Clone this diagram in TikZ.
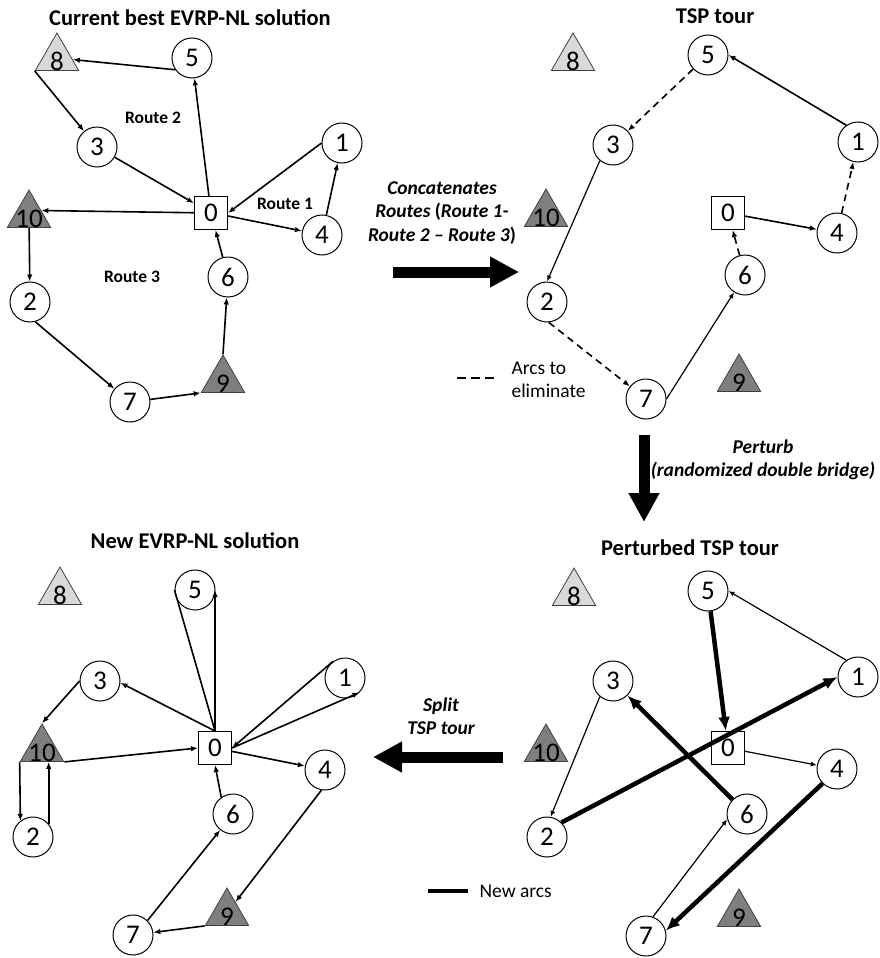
\documentclass[tikz,border=0pt]{standalone}
\usepackage{fontspec}
\setmainfont{Carlito}
\usetikzlibrary{arrows.meta,shapes.geometric}
\definecolor{lightg}{HTML}{D9D9D9}
\definecolor{darkg}{HTML}{7F7F7F}
\newcommand{\tlab}[1]{\smash{\makebox[0pt]{\raisebox{-12.5pt}{#1}}}}
\begin{document}
\begin{tikzpicture}[x=1pt,y=-1pt,
  cnode/.style={circle,draw,line width=1pt,minimum size=40pt,inner sep=0pt,font=\fontsize{27}{27}\selectfont},
  dnode/.style={rectangle,draw,line width=1pt,minimum size=33pt,inner sep=0pt,font=\fontsize{27}{27}\selectfont},
  tri/.style={regular polygon,regular polygon sides=3,draw=black!75,line width=0.8pt,minimum size=50pt,inner sep=0pt,font=\fontsize{27}{27}\selectfont},
  ltri/.style={tri,fill=lightg},
  dtri/.style={tri,fill=darkg},
  edgeA/.style={line width=1.6pt,-{Latex[length=7pt,width=5.5pt]}},
  edgeT/.style={line width=1.2pt,-{Latex[length=6pt,width=5pt]}},
  edgeD/.style={edgeA,dash pattern=on 7pt off 5pt},
  edgeB/.style={line width=4.5pt,-{Latex[length=14pt,width=12pt]}},
  bigarrow/.style={line width=11pt,-{Triangle[length=29pt,width=29pt]}},
  ttl/.style={font=\fontsize{22.5}{26}\selectfont\bfseries,anchor=base},
  rlab/.style={font=\fontsize{17.5}{20}\selectfont\bfseries},
  oplab/.style={font=\fontsize{19.5}{23.5}\selectfont\bfseries\itshape,align=center},
  lgd/.style={font=\fontsize{19.5}{23.5}\selectfont,align=left,anchor=west}]
\useasboundingbox (0,0) rectangle (880,958);
\fill[white] (0,0) rectangle (880,958);

% ---------- Panel 1: current best ----------
\node[ttl] (t1) at (190,26) {Current best EVRP-NL solution};
\node[dnode] (a0) at (211,213) {0};
\node[cnode] (a1) at (342,143) {1};
\node[cnode] (a2) at (30,302) {2};
\node[cnode] (a3) at (97,147) {3};
\node[cnode] (a4) at (322,235) {4};
\node[cnode] (a5) at (192,58) {5};
\node[cnode] (a6) at (228,277) {6};
\node[cnode] (a7) at (130,402) {7};
\node[ltri] (a8) at (57,58) {\tlab{8}};
\node[dtri] (a9) at (223,380) {\tlab{9}};
\node[dtri] (a10) at (29,215) {\tlab{10}};
\node[rlab] (r2) at (153,118) {Route 2};
\node[rlab] (r1) at (285,204) {Route 1};
\node[rlab] (r3) at (132,277) {Route 3};
\draw[edgeA] (a5.215) -- (a8);
\draw[edgeA] (a8.corner 2) -- (a3);
\draw[edgeA] (a3) -- (a0);
\draw[edgeA] (a0) -- (a5);
\draw[edgeA] (a0.-10) -- (a4);
\draw[edgeA] (a4) -- (a1);
\draw[edgeA] (a1.west) -- (a0.east);
\draw[edgeA] (a0) -- (a10.20);
\draw[edgeA] (a10) -- (a2);
\draw[edgeA] (a2.-75) -- (a7);
\draw[edgeA] (a7) -- (a9.corner 2);
\draw[edgeA] (a9.corner 1) -- (a6);
\draw[edgeA] (a6) -- (a0);

% ---------- Panel 2: TSP tour ----------
\node[ttl] (t2) at (715,24) {TSP tour};
\node[dnode] (b0) at (728,213) {0};
\node[cnode] (b1) at (858,142) {1};
\node[cnode] (b2) at (547,302) {2};
\node[cnode] (b3) at (613,145) {3};
\node[cnode] (b4) at (837,233) {4};
\node[cnode] (b5) at (708,55) {5};
\node[cnode] (b6) at (745,275) {6};
\node[cnode] (b7) at (646,399) {7};
\node[ltri] (b8) at (573,58) {\tlab{8}};
\node[dtri] (b9) at (739,379) {\tlab{9}};
\node[dtri] (b10) at (546,214) {\tlab{10}};
\draw[edgeA] (b1.125) -- (b5.east);
\draw[edgeD] (b5) -- (b3);
\draw[edgeT] (b3.230) -- (b2.north);
\draw[edgeD] (b2.-85) -- (b7);
\draw[edgeT] (b7.east) -- (b6);
\draw[edgeD] (b6) -- (b0);
\draw[edgeA] (b0) -- (b4);
\draw[edgeD] (b4) -- (b1);
\coordinate (lg1a) at (457,378);
\coordinate (lg1b) at (497,378);
\draw[line width=1.8pt,dash pattern=on 9pt off 5pt] (lg1a) -- (lg1b);
\node[lgd] (lg1) at (508,380) {Arcs to\\eliminate};

% ---------- Transformation arrows ----------
\node[oplab] (op1) at (442,213) {Concatenates\\Routes {\upshape(}Route 1-\\Route 2 – Route 3{\upshape)}};
\coordinate (ba1s) at (393,272);
\coordinate (ba1e) at (519,272);
\draw[bigarrow] (ba1s) -- (ba1e);
\node[oplab] (op2) at (763,460) {Perturb\\(randomized double bridge)};
\coordinate (ba2s) at (644,435);
\coordinate (ba2e) at (644,522);
\draw[bigarrow] (ba2s) -- (ba2e);
\node[oplab] (op3) at (441,716) {Split\\TSP tour};
\coordinate (ba3s) at (503,757);
\coordinate (ba3e) at (373,757);
\draw[bigarrow] (ba3s) -- (ba3e);

% ---------- Panel 4: perturbed TSP tour ----------
\node[ttl] (t4) at (690,555) {Perturbed TSP tour};
\node[dnode] (d0) at (728,748) {0};
\node[cnode] (d1) at (858,677) {1};
\node[cnode] (d2) at (547,837) {2};
\node[cnode] (d3) at (613,681) {3};
\node[cnode] (d4) at (837,769) {4};
\node[cnode] (d5) at (708,591) {5};
\node[cnode] (d6) at (747,814) {6};
\node[cnode] (d7) at (646,936) {7};
\node[ltri] (d8) at (574,593) {\tlab{8}};
\node[dtri] (d9) at (739,914) {\tlab{9}};
\node[dtri] (d10) at (546,749) {\tlab{10}};
\draw[edgeT] (d1.125) -- (d5.east);
\draw[edgeB] (d5) -- (d0);
\draw[edgeT] (d0) -- (d4);
\draw[edgeB] (d4.225) -- (d7.15);
\draw[edgeT] (d7.70) -- (d6.195);
\draw[edgeB] (d6) -- (d3);
\draw[edgeT] (d3.230) -- (d2.80);
\draw[edgeB] (d2.45) -- (d1.west);
\coordinate (lg2a) at (428,891);
\coordinate (lg2b) at (468,891);
\draw[line width=4.5pt] (lg2a) -- (lg2b);
\node[lgd] (lg2) at (476,891) {New arcs};

% ---------- Panel 3: new solution ----------
\node[ttl] (t3) at (195,548) {New EVRP-NL solution};
\node[dnode] (c0) at (215,748) {0};
\node[cnode] (c1) at (345,678) {1};
\node[cnode] (c2) at (33,837) {2};
\node[cnode] (c3) at (100,681) {3};
\node[cnode] (c4) at (325,770) {4};
\node[cnode] (c5) at (195,590) {5};
\node[cnode] (c6) at (233,814) {6};
\node[cnode] (c7) at (133,935) {7};
\node[ltri] (c8) at (60,592) {\tlab{8}};
\node[dtri] (c9) at (227,913) {\tlab{9}};
\node[dtri] (c10) at (42,749) {\tlab{10}};
\draw[edgeA] (c0.north) -- (c0.north |- c5.east);
\draw[line width=1.6pt] (c5.west) -- (c0.north);
\draw[edgeA] (c0.east) -- (c1.-45);
\draw[edgeA] (c1.126) -- (c0.east);
\draw[edgeA] (c0.north) -- (c3.-5);
\draw[edgeA] (c3.180) -- (c10.corner 1);
\draw[edgeA] (c10.corner 3) -- (c0.west);
\draw[edgeA] (c10.corner 2) -- (c2.128);
\draw[edgeA] (c2.40) -- (c2.40 |- c10.south);
\draw[edgeA] (c0) -- (c4);
\draw[edgeA] (c4.-100) -- (c9);
\draw[edgeA] (c9.corner 2) -- (c7);
\draw[edgeA] (c7.45) -- (c6);
\draw[edgeA] (c6.125) -- (c0.south);
\end{tikzpicture}
\end{document}
